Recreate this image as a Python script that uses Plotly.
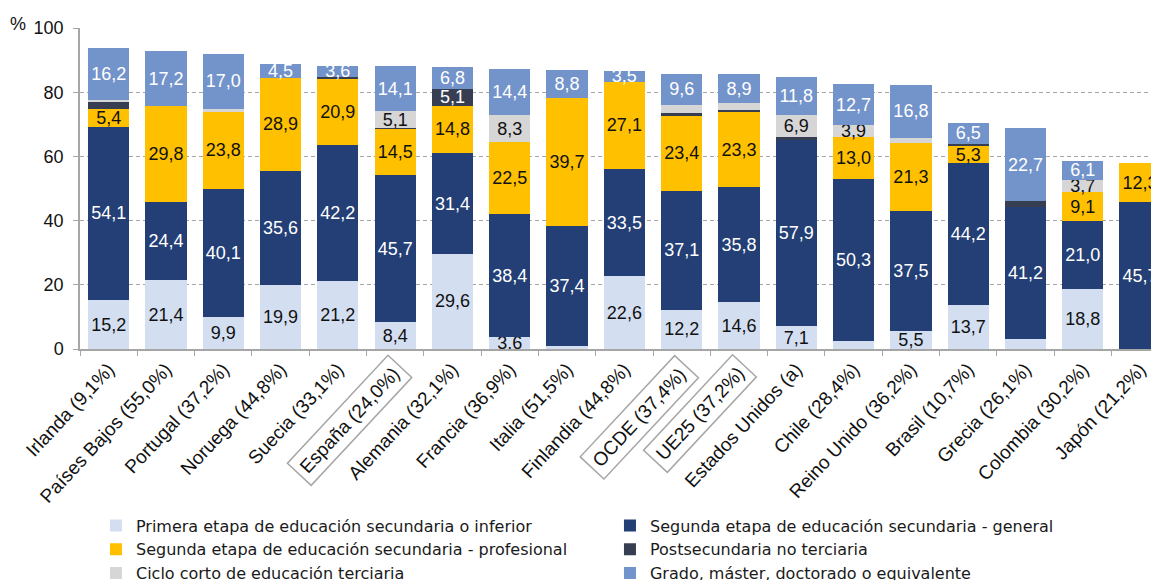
import plotly.graph_objects as go

categories = ["Irlanda (9,1%)", "Países Bajos (55,0%)", "Portugal (37,2%)", "Noruega (44,8%)",
              "Suecia (33,1%)", "España (24,0%)", "Alemania (32,1%)", "Francia (36,9%)",
              "Italia (51,5%)", "Finlandia (44,8%)", "OCDE (37,4%)", "UE25 (37,2%)",
              "Estados Unidos (a)", "Chile (28,4%)", "Reino Unido (36,2%)", "Brasil (10,7%)",
              "Grecia (26,1%)", "Colombia (30,2%)", "Japón (21,2%)"]
boxed = ["España (24,0%)", "OCDE (37,4%)", "UE25 (37,2%)"]

primera     = [15.2, 21.4, 9.9, 19.9, 21.2, 8.4, 29.6, 3.6, 1.0, 22.6, 12.2, 14.6, 7.1, 2.6, 5.5, 13.7, 3.1, 18.8, 0.0]
general     = [54.1, 24.4, 40.1, 35.6, 42.2, 45.7, 31.4, 38.4, 37.4, 33.5, 37.1, 35.8, 57.9, 50.3, 37.5, 44.2, 41.2, 21.0, 45.7]
profesional = [5.4, 29.8, 23.8, 28.9, 20.9, 14.5, 14.8, 22.5, 39.7, 27.1, 23.4, 23.3, 0.0, 13.0, 21.3, 5.3, 0.0, 9.1, 12.3]
postsec     = [2.4, 0.0, 0.0, 0.0, 0.4, 0.3, 5.1, 0.0, 0.0, 0.0, 0.9, 0.7, 1.1, 0.0, 0.0, 0.7, 1.8, 0.0, 0.0]
ciclo       = [0.5, 0.0, 1.1, 0.0, 0.0, 5.1, 0.0, 8.3, 0.0, 0.0, 2.5, 2.3, 6.9, 3.9, 1.3, 0.0, 0.0, 3.7, 0.0]
grado       = [16.2, 17.2, 17.0, 4.5, 3.6, 14.1, 6.8, 14.4, 8.8, 3.5, 9.6, 8.9, 11.8, 12.7, 16.8, 6.5, 22.7, 6.1, 0.0]

series = [
    ("Primera etapa de educación secundaria o inferior", primera, "#D3DFF1", "#111111"),
    ("Segunda etapa de educación secundaria - general", general, "#233F76", "#FFFFFF"),
    ("Segunda etapa de educación secundaria - profesional", profesional, "#FFC000", "#111111"),
    ("Postsecundaria no terciaria", postsec, "#383E52", "#FFFFFF"),
    ("Ciclo corto de educación terciaria", ciclo, "#D6D6D6", "#111111"),
    ("Grado, máster, doctorado o equivalente", grado, "#7393CB", "#FFFFFF"),
]

def fmt(v):
    return f"{v:.1f}".replace(".", ",") if v >= 3.5 else ""

FONT = "Liberation Sans, Arial, sans-serif"
ANGLE = -47

fig = go.Figure()
for name, vals, color, tcolor in series:
    fig.add_trace(go.Bar(
        name=name, x=categories, y=vals,
        marker=dict(color=color, line=dict(width=0)),
        text=[fmt(v) for v in vals], textposition="inside",
        insidetextanchor="middle", textangle=0,
        textfont=dict(family=FONT, size=18, color=tcolor),
    ))

ticktext = ["" if c in boxed else c for c in categories]

annotations = [dict(text="%", xref="paper", yref="paper", x=-0.0575, y=1.013,
                    xanchor="center", yanchor="middle", showarrow=False,
                    font=dict(family=FONT, size=18, color="#111111"))]
for c in boxed:
    annotations.append(dict(text=c, xref="x", yref="y", x=c, y=0,
                            xanchor="right", yanchor="top", xshift=18, yshift=-5,
                            textangle=ANGLE, showarrow=False,
                            bordercolor="#A6A6A6", borderwidth=1.5, borderpad=5,
                            font=dict(family=FONT, size=19, color="#111111")))

fig.update_layout(
    width=1151, height=572,
    barmode="stack", bargap=0.28,
    plot_bgcolor="white", paper_bgcolor="white",
    margin=dict(l=72, r=0, t=20, b=231, autoexpand=False),
    font=dict(family=FONT, size=18, color="#111111"),
    uniformtext=dict(minsize=18, mode="show"),
    xaxis=dict(type="category", range=[-0.5, 18.33], tickmode="array",
               tickvals=categories, ticktext=ticktext, tickangle=ANGLE,
               tickson="boundaries", ticks="outside", ticklen=5, tickcolor="#A6A6A6",
               showline=True, linecolor="#A6A6A6", linewidth=1.5,
               tickfont=dict(family=FONT, size=19, color="#111111")),
    yaxis=dict(range=[0, 100], dtick=20, showgrid=True, gridcolor="#A6A6A6",
               griddash="4px,3px", gridwidth=1, zeroline=False,
               showline=True, linecolor="#A6A6A6", linewidth=1.5,
               ticks="outside", ticklen=5, tickcolor="#A6A6A6",
               ticklabelstandoff=6,
               tickfont=dict(family=FONT, size=18, color="#111111")),
    legend=dict(orientation="h", x=0.0148, y=-0.497, xanchor="left", yanchor="top",
                entrywidth=469, traceorder="normal",
                font=dict(family="DejaVu Sans, sans-serif", size=16, color="#1a1a1a"),
                bgcolor="rgba(0,0,0,0)"),
    annotations=annotations,
    showlegend=True,
)

fig.write_html("out.html")
